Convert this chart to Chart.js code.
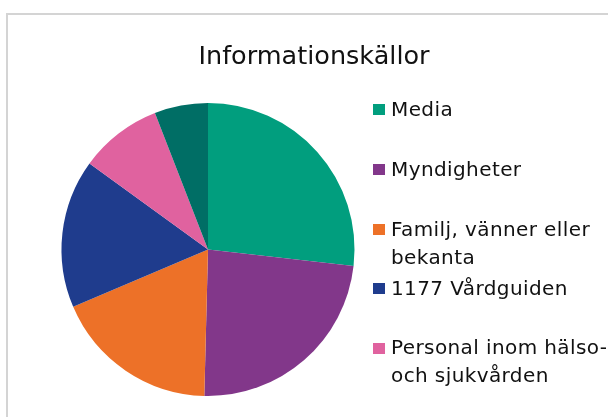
<!DOCTYPE html>
<html>
<head>
<meta charset="utf-8">
<script src="https://cdn.jsdelivr.net/npm/chart.js@4/dist/chart.umd.min.js"></script>
<style>
  html, body { margin: 0; padding: 0; background: #fff; }
  #wrap { position: relative; width: 608px; height: 417px; overflow: hidden; background: #fff; }
  #frame { position: absolute; left: 6px; top: 13px; width: 700px; height: 500px;
           border-left: 2px solid #d4d4d4; border-top: 2px solid #d4d4d4; box-sizing: border-box; }
  canvas { position: absolute; left: 0; top: 0; }
  #title { position: absolute; left: 0; width: 628px; top: 40px; text-align: center;
           font-family: "DejaVu Sans", sans-serif; font-size: 25.5px; line-height: 30px; color: #111; white-space: nowrap; }
  .item { position: absolute; left: 391px; font-family: "DejaVu Sans", sans-serif; font-size: 20px;
          line-height: 27.5px; color: #111; white-space: pre; letter-spacing: 0.4px; }
  .sq { position: absolute; width: 12px; height: 11px; }
</style>
</head>
<body>
<div id="wrap">
  <div id="frame"></div>
  <canvas id="c" width="608" height="417"></canvas>
  <div id="title"></div>
  <div id="legend"></div>
</div>
<script>
const chartTitle = "Informationskällor";
const categories = ["Media", "Myndigheter", "Familj, vänner eller bekanta", "1177 Vårdguiden", "Personal inom hälso- och sjukvården", "Övrigt"];
const legendLines = [["Media"], ["Myndigheter"], ["Familj, vänner eller", "bekanta"], ["1177 Vårdguiden"], ["Personal inom hälso-", "och sjukvården"]];
const values = [26.8, 23.6, 18.2, 16.4, 9.1, 5.9];
const colors = ["#019E7E", "#82378A", "#ED7128", "#1F3C8D", "#E0629F", "#006E65"];

document.getElementById('title').textContent = chartTitle;

const legendBaselines = [116.7, 176.5, 236.7, 295.7, 355];
const legend = document.getElementById('legend');
legendLines.forEach((lines, i) => {
  const d = document.createElement('div');
  d.className = 'item';
  d.style.top = (legendBaselines[i] - 20.6) + 'px';
  d.textContent = lines.join('\n');
  legend.appendChild(d);
  const s = document.createElement('div');
  s.className = 'sq';
  s.style.left = '373px';
  s.style.top = (legendBaselines[i] - 12.5) + 'px';
  s.style.background = colors[i];
  legend.appendChild(s);
});

new Chart(document.getElementById('c'), {
  type: 'pie',
  data: {
    labels: categories,
    datasets: [{
      data: values,
      backgroundColor: colors,
      borderWidth: 0
    }]
  },
  options: {
    responsive: false,
    animation: false,
    layout: { padding: { left: 61.5, right: 253.5, top: 103, bottom: 21 } },
    plugins: {
      legend: { display: false },
      title: { display: false },
      tooltip: { enabled: false }
    }
  }
});
</script>
</body>
</html>
